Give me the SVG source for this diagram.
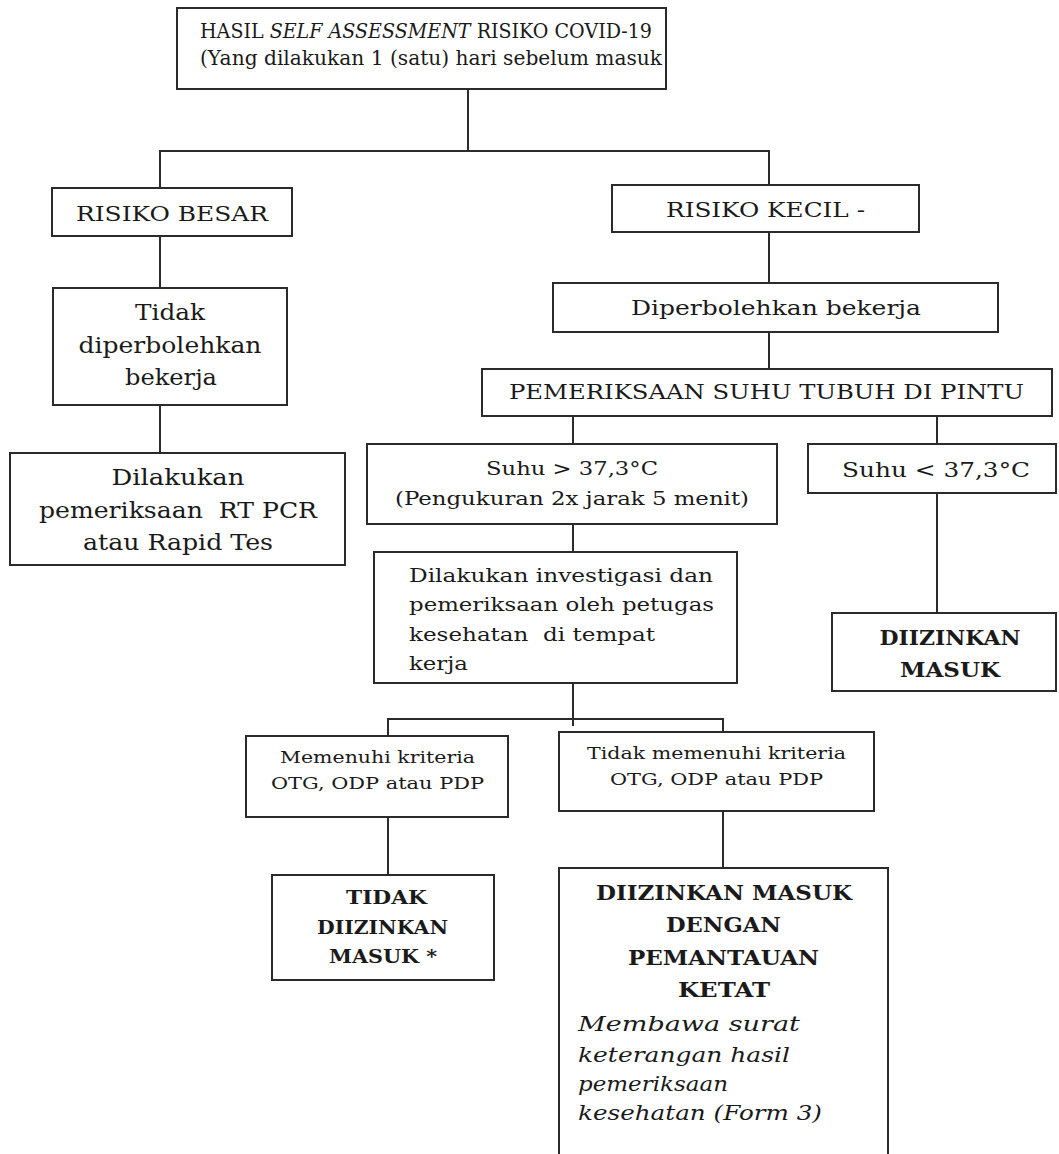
<svg xmlns="http://www.w3.org/2000/svg" width="1059" height="1154" viewBox="0 0 1059 1154">
<style>
  .box { fill: #ffffff; stroke: #2b2b2b; stroke-width: 2; }
  .conn line { stroke: #2b2b2b; stroke-width: 2; }
  text { font-family: "DejaVu Serif", "Liberation Serif", serif; fill: #1a1a1a; }
  .c { text-anchor: middle; }
  .b { font-weight: bold; }
  .i { font-style: italic; }
  .pre { white-space: pre; }
</style>
<rect width="1059" height="1154" fill="#ffffff"/>

<g id="connectors" class="conn">
  <line x1="468" y1="89" x2="468" y2="151"/>
  <line x1="159" y1="151" x2="770" y2="151"/>
  <line x1="160" y1="151" x2="160" y2="188"/>
  <line x1="769" y1="151" x2="769" y2="185"/>
  <line x1="160" y1="236" x2="160" y2="288"/>
  <line x1="160" y1="405" x2="160" y2="453"/>
  <line x1="769" y1="232" x2="769" y2="283"/>
  <line x1="769" y1="332" x2="769" y2="369"/>
  <line x1="573" y1="416" x2="573" y2="444"/>
  <line x1="937" y1="416" x2="937" y2="444"/>
  <line x1="573" y1="524" x2="573" y2="552"/>
  <line x1="937" y1="493" x2="937" y2="613"/>
  <line x1="573" y1="683" x2="573" y2="726"/>
  <line x1="387" y1="719" x2="724" y2="719"/>
  <line x1="388" y1="719" x2="388" y2="736"/>
  <line x1="723" y1="719" x2="723" y2="732"/>
  <line x1="388" y1="817" x2="388" y2="875"/>
  <line x1="723" y1="811" x2="723" y2="868"/>
</g>

<g id="node-hasil">
  <rect class="box" x="177" y="8" width="489" height="81"/>
  <text x="200" y="38" font-size="20" textLength="452" lengthAdjust="spacingAndGlyphs">HASIL <tspan class="i">SELF ASSESSMENT</tspan> RISIKO COVID-19</text>
  <text x="200" y="65" font-size="20" textLength="462" lengthAdjust="spacingAndGlyphs">(Yang dilakukan 1 (satu) hari sebelum masuk</text>
</g>

<g id="node-risiko-besar">
  <rect class="box" x="52" y="188" width="240" height="48"/>
  <text class="c" x="172" y="221" font-size="21" textLength="192" lengthAdjust="spacingAndGlyphs">RISIKO BESAR</text>
</g>

<g id="node-tidak-diperbolehkan">
  <rect class="box" x="53" y="288" width="234" height="117"/>
  <text class="c" x="170" y="320" font-size="22" textLength="70" lengthAdjust="spacingAndGlyphs">Tidak</text>
  <text class="c" x="170" y="353" font-size="22" textLength="183" lengthAdjust="spacingAndGlyphs">diperbolehkan</text>
  <text class="c" x="171" y="385" font-size="22" textLength="92" lengthAdjust="spacingAndGlyphs">bekerja</text>
</g>

<g id="node-rtpcr">
  <rect class="box" x="10" y="453" width="335" height="112"/>
  <text class="c" x="178" y="485" font-size="22" textLength="133" lengthAdjust="spacingAndGlyphs">Dilakukan</text>
  <text class="c pre" x="178" y="518" font-size="22" textLength="278" lengthAdjust="spacingAndGlyphs">pemeriksaan  RT PCR</text>
  <text class="c" x="178" y="550" font-size="22" textLength="190" lengthAdjust="spacingAndGlyphs">atau Rapid Tes</text>
</g>

<g id="node-risiko-kecil">
  <rect class="box" x="612" y="185" width="307" height="47"/>
  <text x="666" y="217" font-size="21" textLength="199" lengthAdjust="spacingAndGlyphs">RISIKO KECIL -</text>
</g>

<g id="node-diperbolehkan">
  <rect class="box" x="553" y="283" width="445" height="49"/>
  <text class="c" x="776" y="315" font-size="21" textLength="290" lengthAdjust="spacingAndGlyphs">Diperbolehkan bekerja</text>
</g>

<g id="node-pemeriksaan-suhu">
  <rect class="box" x="482" y="369" width="570" height="47"/>
  <text class="c" x="766.5" y="399" font-size="20" textLength="515" lengthAdjust="spacingAndGlyphs">PEMERIKSAAN SUHU TUBUH DI PINTU</text>
</g>

<g id="node-suhu-tinggi">
  <rect class="box" x="367" y="444" width="410" height="80"/>
  <text class="c" x="572" y="475" font-size="19" textLength="172" lengthAdjust="spacingAndGlyphs">Suhu &gt; 37,3°C</text>
  <text class="c" x="572" y="505" font-size="19" textLength="354" lengthAdjust="spacingAndGlyphs">(Pengukuran 2x jarak 5 menit)</text>
</g>

<g id="node-suhu-rendah">
  <rect class="box" x="808" y="444" width="248" height="49"/>
  <text class="c" x="936" y="477" font-size="20" textLength="188" lengthAdjust="spacingAndGlyphs">Suhu &lt; 37,3°C</text>
</g>

<g id="node-diizinkan-masuk">
  <rect class="box" x="832" y="613" width="224" height="78"/>
  <text class="b c" x="950" y="645" font-size="20" textLength="141" lengthAdjust="spacingAndGlyphs">DIIZINKAN</text>
  <text class="b c" x="950" y="677" font-size="20" textLength="100" lengthAdjust="spacingAndGlyphs">MASUK</text>
</g>

<g id="node-investigasi">
  <rect class="box" x="374" y="552" width="363" height="131"/>
  <text x="409" y="582" font-size="19" textLength="304" lengthAdjust="spacingAndGlyphs">Dilakukan investigasi dan</text>
  <text x="409" y="611" font-size="19" textLength="305" lengthAdjust="spacingAndGlyphs">pemeriksaan oleh petugas</text>
  <text class="pre" x="409" y="641" font-size="19" textLength="246" lengthAdjust="spacingAndGlyphs">kesehatan  di tempat</text>
  <text x="409" y="670" font-size="19" textLength="59" lengthAdjust="spacingAndGlyphs">kerja</text>
</g>

<g id="node-memenuhi">
  <rect class="box" x="246" y="736" width="262" height="81"/>
  <text class="c" x="377.5" y="763" font-size="17" textLength="195" lengthAdjust="spacingAndGlyphs">Memenuhi kriteria</text>
  <text class="c" x="377.5" y="789" font-size="17" textLength="213" lengthAdjust="spacingAndGlyphs">OTG, ODP atau PDP</text>
</g>

<g id="node-tidak-memenuhi">
  <rect class="box" x="559" y="732" width="315" height="79"/>
  <text class="c" x="716.5" y="759" font-size="17" textLength="259" lengthAdjust="spacingAndGlyphs">Tidak memenuhi kriteria</text>
  <text class="c" x="716.5" y="785" font-size="17" textLength="213" lengthAdjust="spacingAndGlyphs">OTG, ODP atau PDP</text>
</g>

<g id="node-tidak-diizinkan">
  <rect class="box" x="272" y="875" width="222" height="105"/>
  <text class="b c" x="386.5" y="904" font-size="19" textLength="81" lengthAdjust="spacingAndGlyphs">TIDAK</text>
  <text class="b c" x="382.5" y="934" font-size="19" textLength="131" lengthAdjust="spacingAndGlyphs">DIIZINKAN</text>
  <text class="b c" x="383" y="963" font-size="19" textLength="108" lengthAdjust="spacingAndGlyphs">MASUK *</text>
</g>

<g id="node-diizinkan-pemantauan">
  <rect class="box" x="559" y="868" width="329" height="300"/>
  <text class="b c" x="724" y="900" font-size="20" textLength="256" lengthAdjust="spacingAndGlyphs">DIIZINKAN MASUK</text>
  <text class="b c" x="723.5" y="932" font-size="20" textLength="115" lengthAdjust="spacingAndGlyphs">DENGAN</text>
  <text class="b c" x="723.5" y="965" font-size="20" textLength="191" lengthAdjust="spacingAndGlyphs">PEMANTAUAN</text>
  <text class="b c" x="724" y="997" font-size="20" textLength="92" lengthAdjust="spacingAndGlyphs">KETAT</text>
  <text class="i" x="578" y="1031" font-size="21" textLength="222" lengthAdjust="spacingAndGlyphs">Membawa surat</text>
  <text class="i" x="578" y="1062" font-size="21" textLength="212" lengthAdjust="spacingAndGlyphs">keterangan hasil</text>
  <text class="i" x="578" y="1091" font-size="21" textLength="150" lengthAdjust="spacingAndGlyphs">pemeriksaan</text>
  <text class="i" x="578" y="1120" font-size="21" textLength="244" lengthAdjust="spacingAndGlyphs">kesehatan (Form 3)</text>
</g>
</svg>
